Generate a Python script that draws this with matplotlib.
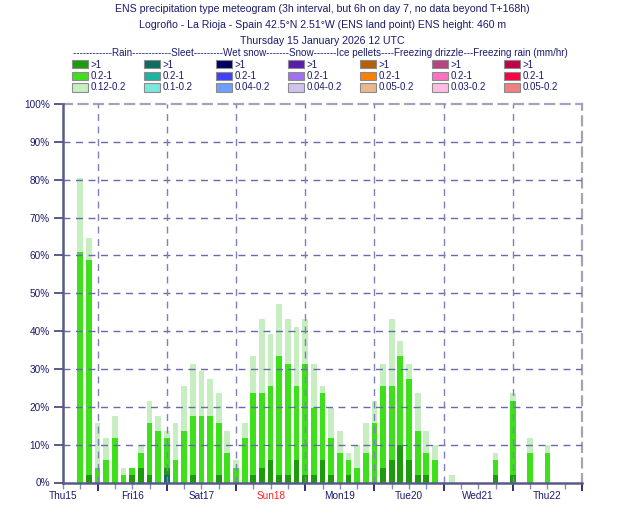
import matplotlib
matplotlib.use("Agg")
import matplotlib.pyplot as plt
from matplotlib.patches import Rectangle
import numpy as np

plt.rcParams['font.family'] = ['Liberation Sans', 'DejaVu Sans']

# ---------------- data (percent of ensemble members) ----------------
hours = [6, 9, 12, 15, 18, 21, 24, 27, 30, 33, 36, 39, 42, 45, 48, 51, 54, 57, 60,
         63, 66, 69, 72, 75, 78, 81, 84, 87, 90, 93, 96, 99, 102, 105, 108, 111,
         114, 117, 120, 123, 126, 129, 132, 135, 138, 141, 144, 150, 156, 162, 168]
# members out of 51
total_m = [41, 33, 8, 6, 9, 2, 2, 5, 11, 9, 7, 8, 13, 16, 15, 14, 12, 7, 3,
           8, 17, 22, 20, 24, 22, 21, 22, 16, 13, 10, 7, 4, 5, 8, 11, 16,
           22, 19, 16, 12, 7, 5, 0, 1, 0, 0, 0, 4, 12, 6, 5]
mid_top_m = [31, 30, 2, 3, 6, 1, 2, 4, 8, 7, 6, 3, 7, 9, 9, 9, 8, 4, 2,
             6, 12, 12, 13, 17, 16, 13, 16, 10, 12, 6, 4, 3, 2, 4, 8, 13,
             13, 17, 14, 7, 4, 3, 0, 0, 0, 0, 0, 3, 11, 4, 4]
dark_top_m = [0, 1, 0, 0, 0, 0, 1, 2, 1, 0, 2, 0, 0, 1, 0, 0, 1, 0, 0,
              0, 1, 2, 3, 1, 1, 3, 1, 1, 3, 1, 0, 1, 0, 0, 0, 2,
              3, 5, 3, 1, 1, 0, 0, 0, 0, 0, 0, 1, 1, 0, 0]
sleet_gt1_m = [0] * len(hours)
sleet_gt1_m[hours.index(36)] = 1

N = 51.0
sleet_gt1 = np.array(sleet_gt1_m) * 100 / N
rain_gt1 = (np.array(dark_top_m) - np.array(sleet_gt1_m)).clip(0) * 100 / N
rain_mid = (np.array(mid_top_m) - np.array(dark_top_m)).clip(0) * 100 / N
rain_low = (np.array(total_m) - np.array(mid_top_m)).clip(0) * 100 / N

day_labels = ["Thu15", "Fri16", "Sat17", "Sun18", "Mon19", "Tue20", "Wed21", "Thu22"]
day_label_hours = [0, 24, 48, 72, 96, 120, 144, 168]

legend_groups = ["Rain", "Sleet", "Wet snow", "Snow", "Ice pellets",
                 "Freezing drizzle", "Freezing rain"]
legend_labels = [[">1", "0.2-1", "0.12-0.2"],
                 [">1", "0.2-1", "0.1-0.2"],
                 [">1", "0.2-1", "0.04-0.2"],
                 [">1", "0.2-1", "0.04-0.2"],
                 [">1", "0.2-1", "0.05-0.2"],
                 [">1", "0.2-1", "0.03-0.2"],
                 [">1", "0.2-1", "0.05-0.2"]]
legend_colors = [["#1c9c0c", "#3ee01c", "#c6eec0"],
                 ["#0e6c60", "#1cb4a0", "#7ce6da"],
                 ["#000060", "#4040f8", "#70a0ff"],
                 ["#5a1cac", "#a070ee", "#d0c2ee"],
                 ["#b85e06", "#ff8000", "#e8b888"],
                 ["#b84282", "#ff70c0", "#ffbce2"],
                 ["#be0444", "#ff0044", "#f08080"]]

# ---------------- figure ----------------
W, H = 630, 525
fig = plt.figure(figsize=(W / 100, H / 100), dpi=100)
fig.patch.set_facecolor("white")

x0, x1 = 63, 582
y_top, y_bot = 104, 482.5
ax = fig.add_axes([x0 / W, 1 - y_bot / H, (x1 - x0) / W, (y_bot - y_top) / H])

txt_col = "#1a1a6e"
axis_col = "#5a5a88"

# bars
bw = 2.0
b = np.zeros(len(hours))
for vals, col in [(sleet_gt1, legend_colors[1][0]),
                  (rain_gt1, legend_colors[0][0]),
                  (rain_mid, legend_colors[0][1]),
                  (rain_low, legend_colors[0][2])]:
    ax.bar(hours, vals, width=bw, bottom=b, color=col, linewidth=0, zorder=2)
    b = b + vals

ax.set_xlim(0, 180)
ax.set_ylim(0, 100)

# grid
for yv in range(10, 100, 10):
    ax.axhline(yv, color="#6a6aa6", lw=1.0, ls=(0, (5, 4)), zorder=3)
for xv in range(12, 180, 24):
    ax.axvline(xv, color="#8080b8", lw=1.0, ls=(0, (5, 4)), zorder=3)

# spines
for s in ["left", "bottom"]:
    ax.spines[s].set_color(axis_col)
    ax.spines[s].set_linewidth(1.8)
    ax.spines[s].set_zorder(4)
for s in ["top", "right"]:
    ax.spines[s].set_color("#a4a4b8")
    ax.spines[s].set_linewidth(1.6)
    ax.spines[s].set_linestyle((0, (4, 3)))

# y ticks
ax.set_yticks(range(0, 101, 10))
ax.set_yticklabels([f"{v}%" for v in range(0, 101, 10)])
ax.tick_params(axis="y", direction="out", length=6.5, width=1.4, color=axis_col,
               labelsize=7.2, labelcolor=txt_col, pad=3)

# x ticks: major at day boundaries, minor each 6 h
ax.set_xticks(range(12, 181, 24))
ax.set_xticklabels([])
ax.set_xticks(range(0, 181, 6), minor=True)
ax.tick_params(axis="x", which="major", direction="out", length=6, width=1.3,
               color="#20206e")
ax.tick_params(axis="x", which="minor", direction="out", length=4, width=1.0,
               color="#8a8ab8")
for h, lab in zip(day_label_hours, day_labels):
    ax.text(h, -0.036, lab, transform=ax.get_xaxis_transform(), ha="center",
            va="center", fontsize=7.2, color=("#ff2020" if lab.startswith("Sun") else txt_col))

# titles
cx = (x0 + x1) / 2 / W
titles = ["ENS precipitation type meteogram (3h interval, but 6h on day 7, no data beyond T+168h)",
          "Logroño - La Rioja - Spain 42.5°N 2.51°W (ENS land point) ENS height: 460 m",
          "Thursday 15 January 2026 12 UTC"]
for i, t in enumerate(titles):
    fig.text(cx, 1 - (9 + 16 * i) / H, t, ha="center", va="center",
             fontsize=7.55, color=txt_col)

header = ("------------Rain------------Sleet---------Wet snow-------Snow-------"
          "Ice pellets----Freezing drizzle---Freezing rain (mm/hr)")
fig.text(320 / W, 1 - 52.5 / H, header, ha="center", va="center", fontsize=7.15,
         color=txt_col)

# legend swatches
for gi in range(len(legend_groups)):
    sx = 71.5 + 72 * gi
    for ri in range(3):
        sy = 60 + 11.5 * ri
        fig.patches.append(Rectangle((sx / W, 1 - (sy + 8.5) / H), 16 / W, 8.5 / H,
                                     transform=fig.transFigure,
                                     facecolor=legend_colors[gi][ri],
                                     edgecolor="#8c8c8c", linewidth=0.8))
        fig.text((sx + 19) / W, 1 - (sy + 4.5) / H, legend_labels[gi][ri],
                 ha="left", va="center", fontsize=7.0, color=txt_col)

fig.savefig("out.png", dpi=100, facecolor="white")
